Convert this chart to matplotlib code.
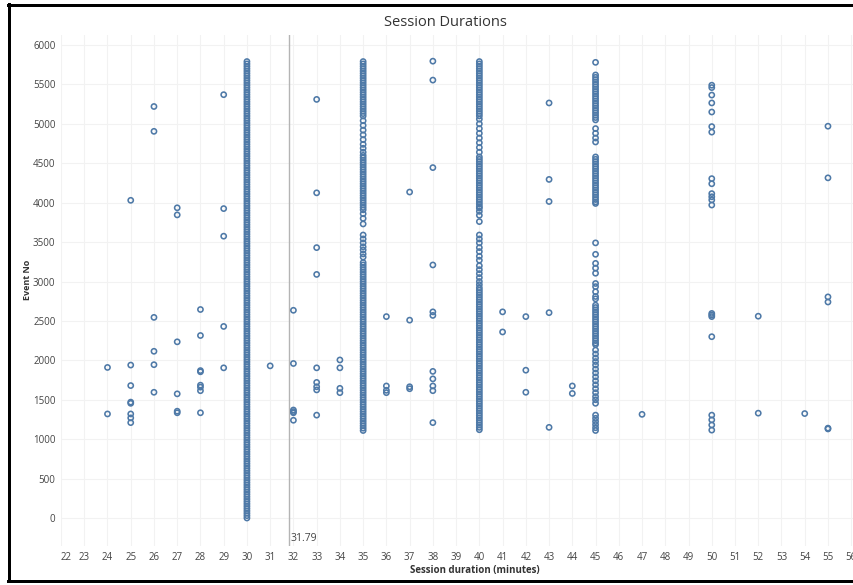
import matplotlib
matplotlib.use("Agg")
import matplotlib.pyplot as plt
from matplotlib.lines import Line2D

# ---------------- data ----------------
ev_24 = [1910, 1320]
ev_25 = [4030, 1940, 1680, 1470, 1455, 1320, 1270, 1210]
ev_26 = [5220, 4905, 2545, 2115, 1945, 1595]
ev_27 = [3935, 3845, 2235, 1575, 1355, 1335]
ev_28 = [2645, 2315, 1870, 1855, 1685, 1660, 1615, 1335]
ev_29 = [5370, 3925, 3575, 2430, 1905]
ev_30 = [0, 30, 60, 90, 120, 150, 180, 210, 240, 270,
         300, 330, 360, 390, 420, 450, 480, 510, 540, 570,
         600, 630, 660, 690, 720, 750, 780, 810, 840, 870,
         900, 930, 960, 990, 1020, 1050, 1080, 1110, 1140, 1170,
         1200, 1230, 1260, 1290, 1320, 1350, 1380, 1410, 1440, 1470,
         1500, 1530, 1560, 1590, 1620, 1650, 1680, 1710, 1740, 1770,
         1800, 1830, 1860, 1890, 1920, 1950, 1980, 2010, 2040, 2070,
         2100, 2130, 2160, 2190, 2220, 2250, 2280, 2310, 2340, 2370,
         2400, 2430, 2460, 2490, 2520, 2550, 2580, 2610, 2640, 2670,
         2700, 2730, 2760, 2790, 2820, 2850, 2880, 2910, 2940, 2970,
         3000, 3030, 3060, 3090, 3120, 3150, 3180, 3210, 3240, 3270,
         3300, 3330, 3360, 3390, 3420, 3450, 3480, 3510, 3540, 3570,
         3600, 3630, 3660, 3690, 3720, 3750, 3780, 3810, 3840, 3870,
         3900, 3930, 3960, 3990, 4020, 4050, 4080, 4110, 4140, 4170,
         4200, 4230, 4260, 4290, 4320, 4350, 4380, 4410, 4440, 4470,
         4500, 4530, 4560, 4590, 4620, 4650, 4680, 4710, 4740, 4770,
         4800, 4830, 4860, 4890, 4920, 4950, 4980, 5010, 5040, 5070,
         5100, 5130, 5160, 5190, 5220, 5250, 5280, 5310, 5340, 5370,
         5400, 5430, 5460, 5490, 5520, 5550, 5580, 5610, 5640, 5670,
         5700, 5730, 5760, 5790]
ev_31 = [1930]
ev_32 = [2635, 1960, 1370, 1350, 1335, 1240]
ev_33 = [5310, 4125, 3430, 3090, 1905, 1720, 1665, 1625, 1305]
ev_34 = [2005, 1905, 1645, 1590]
ev_35 = [5790, 5760, 5730, 5700, 5670, 5640, 5610, 5580, 5550, 5520, 5490,
         5460, 5430, 5400, 5370, 5340, 5310, 5280, 5250, 5220, 5190, 5160,
         5130, 5100,
         5040, 4980, 4920, 4860, 4800, 4740, 4690, 4640,
         4600, 4570, 4540, 4510, 4480, 4450, 4420, 4390, 4360, 4330, 4300,
         4270, 4240, 4210, 4180, 4150, 4120, 4090, 4060, 4030, 4000, 3970,
         3940, 3910,
         3860, 3800, 3730, 3590, 3540, 3490, 3440, 3400, 3350, 3310,
         3240, 3210, 3180, 3150, 3120, 3090, 3060, 3030, 3000, 2970, 2940,
         2910, 2880, 2850, 2820, 2790, 2760, 2730, 2700, 2670, 2640, 2610,
         2580, 2550, 2520, 2490, 2460, 2430, 2400, 2370, 2340, 2310, 2280,
         2250, 2220, 2190, 2160, 2130, 2100, 2070, 2040, 2010, 1980, 1950,
         1920, 1890, 1860, 1830, 1800, 1770, 1740, 1710, 1680, 1650, 1620,
         1590, 1560, 1530, 1500, 1470, 1440, 1410, 1380, 1350, 1320, 1290,
         1260, 1230, 1200, 1170, 1140, 1110]
ev_36 = [2555, 1675, 1620, 1590]
ev_37 = [4135, 2510, 1665, 1640]
ev_38 = [5795, 5555, 4445, 3210, 2615, 2570, 1860, 1765, 1675, 1615, 1210]
ev_40 = [5790, 5760, 5730, 5700, 5670, 5640, 5610, 5580, 5550, 5520, 5490,
         5460, 5430, 5400, 5370, 5340, 5310, 5280, 5250, 5220, 5190, 5160,
         5130, 5100,
         5060, 5000, 4940, 4880, 4820, 4760, 4700, 4640,
         4580, 4550, 4520, 4490, 4460, 4430, 4400, 4370, 4340, 4310, 4280,
         4250, 4220, 4190, 4160, 4130, 4100, 4070, 4040, 4010, 3980, 3950,
         3930,
         3890, 3840, 3760, 3590, 3540, 3490, 3430, 3380, 3320, 3270, 3200,
         3150, 3100, 3050, 3000, 2960,
         2920, 2890, 2860, 2830, 2800, 2770, 2740, 2710, 2680, 2650, 2620,
         2590, 2560, 2530, 2500, 2470, 2440, 2410, 2380, 2350, 2320, 2290,
         2260, 2230, 2200, 2170, 2140, 2110, 2080, 2050, 2020, 1990, 1960,
         1930, 1900, 1870, 1840, 1810, 1780, 1750, 1720, 1690, 1660, 1630,
         1600, 1570, 1540, 1510, 1480, 1450, 1420, 1390, 1360, 1330, 1300,
         1270, 1240, 1210, 1180, 1150, 1120]
ev_41 = [2615, 2360]
ev_42 = [2555, 1875, 1595]
ev_43 = [5265, 4295, 4015, 2605, 1150]
ev_44 = [1675, 1580]
ev_45 = [5780,
         5620, 5590, 5560, 5530, 5500, 5470, 5440, 5410, 5380, 5350, 5320,
         5290, 5260, 5230, 5200, 5170, 5140, 5110, 5080, 5050,
         4940, 4880, 4820, 4770,
         4580, 4550, 4520, 4490, 4460, 4430, 4400, 4370, 4340, 4310, 4280,
         4250, 4220, 4190, 4160, 4130, 4100, 4070, 4040, 4010, 3990,
         3490, 3345, 3230, 3170, 3105, 2975, 2935, 2870, 2810, 2780,
         2700, 2670, 2640, 2610, 2580, 2550, 2520, 2490, 2460, 2430, 2400,
         2370, 2340, 2310, 2280, 2250, 2220, 2200,
         2130, 2080, 2030, 1985, 1940, 1890, 1840, 1790, 1740, 1690, 1640,
         1590, 1540, 1500, 1455,
         1305, 1265, 1225, 1185, 1145, 1110]
ev_47 = [1315]
ev_50 = [5490, 5460, 5365, 5265, 5150, 4965, 4895, 4305, 4240, 4115, 4075,
         4035, 3970, 2595, 2575, 2555, 2300, 1305, 1245, 1180, 1115]
ev_52 = [2560, 1330]
ev_54 = [1325]
ev_55 = [4970, 4315, 2805, 2740, 1140, 1130]

durations = [24, 25, 26, 27, 28, 29, 30, 31, 32, 33, 34, 35, 36, 37, 38, 40,
             41, 42, 43, 44, 45, 47, 50, 52, 54, 55]
event_lists = [ev_24, ev_25, ev_26, ev_27, ev_28, ev_29, ev_30, ev_31, ev_32,
               ev_33, ev_34, ev_35, ev_36, ev_37, ev_38, ev_40, ev_41, ev_42,
               ev_43, ev_44, ev_45, ev_47, ev_50, ev_52, ev_54, ev_55]

x_ticks = list(range(22, 57))
y_ticks = [0, 500, 1000, 1500, 2000, 2500, 3000, 3500, 4000, 4500, 5000,
           5500, 6000]
ref_value = 31.79

# ---------------- figure ----------------
W, H = 854, 585
fig = plt.figure(figsize=(W / 100, H / 100), dpi=100)
fig.patch.set_facecolor("white")

plt.rcParams["font.family"] = ["Open Sans", "DejaVu Sans"]

left_px, right_px, top_px, bottom_px = 61, 854, 35, 546
ax = fig.add_axes([left_px / W, 1 - bottom_px / H,
                   (right_px - left_px) / W, (bottom_px - top_px) / H])

blue = "#4e79a7"
xs, ys = [], []
for d, evs in zip(durations, event_lists):
    xs.extend([d] * len(evs))
    ys.extend(evs)
ax.scatter(xs, ys, s=14, facecolors="none", edgecolors=blue,
           linewidths=1.15, zorder=3, clip_on=False)

ax.set_xlim(22.0, 56.12)
ax.set_ylim(-355, 6127)

ax.set_xticks(x_ticks)
ax.set_xticklabels([str(t) for t in x_ticks])
ax.set_yticks(y_ticks)
ax.set_yticklabels([str(t) for t in y_ticks])
ax.tick_params(axis="both", length=0, labelsize=7, colors="#444444")
ax.tick_params(axis="x", pad=4)
ax.tick_params(axis="y", pad=4)
# first x label is pushed inward (left-aligned) like Tableau does
ax.get_xticklabels()[0].set_horizontalalignment("left")

ax.grid(True, color="#f2f2f2", linewidth=0.8, zorder=0)
ax.set_axisbelow(True)
for sp in ax.spines.values():
    sp.set_visible(False)

# reference line
ax.axvline(ref_value, color="#b4b4b4", linewidth=1.0, zorder=2)
ax.text(ref_value + 0.1, -330, f"{ref_value:.2f}", fontsize=7.5,
        color="#444444", ha="left", va="bottom")

# titles / labels
fig.text(445 / W, 1 - 22 / H, "Session Durations", fontsize=10.5,
         color="#333333", ha="center", va="center")
fig.text(28 / W, 1 - 280 / H, "Event No", fontsize=6.5, fontweight="bold",
         color="#333333", rotation=90, ha="center", va="center")
fig.text(475 / W, 1 - 571 / H, "Session duration (minutes)", fontsize=7,
         fontweight="bold", color="#333333", ha="center", va="center")

# black frame (left, top, bottom)
lw = 3 * 72 / 100
fig.add_artist(Line2D([9.5 / W, 9.5 / W], [1 - 4 / H, 1 - 581 / H],
                      color="black", linewidth=lw, transform=fig.transFigure))
fig.add_artist(Line2D([8 / W, 1.0], [1 - 4.5 / H, 1 - 4.5 / H],
                      color="black", linewidth=lw, transform=fig.transFigure))
fig.add_artist(Line2D([8 / W, 1.0], [1 - 580.5 / H, 1 - 580.5 / H],
                      color="black", linewidth=lw, transform=fig.transFigure))

fig.savefig("out.png", dpi=100, facecolor="white")
